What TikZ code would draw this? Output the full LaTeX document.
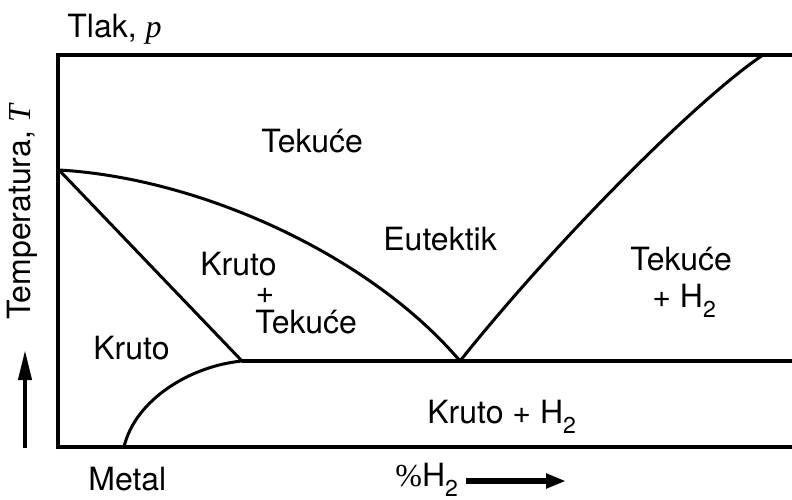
\documentclass[tikz,border=0pt]{standalone}
\usepackage{fontspec}
\setmainfont{TeX Gyre Heros}
\newfontfamily\timesfont{Liberation Serif}
\usetikzlibrary{arrows.meta}
\newcommand{\subtwo}{\raisebox{-5pt}{\fontsize{11.5}{12}\selectfont 2}}

\begin{document}
\begin{tikzpicture}[x=0.5pt, y=-0.5pt,
    lbl/.style={inner sep=0pt, anchor=base west, font=\fontsize{16}{19}\selectfont},
    phase/.style={line width=1.5pt},
    frame/.style={line width=2pt}]
            \useasboundingbox (0,0) rectangle (792,499);

            % Frame (open on the right)
            \draw[frame] (792,55) -- (58,55) -- (58,447) -- (792,447);

            % Key points
            \coordinate (melt) at (59,170);
            \coordinate (eut) at (460,361);
            \coordinate (sol) at (242,361);
            \coordinate (top) at (763,55);
            \coordinate (bot) at (124,447);
            \coordinate (rim) at (792,361);

            % Liquidus, solidus, solvus
            \draw[phase] (melt) .. controls (200,178) and (370,255) .. (eut);
            \draw[phase] (melt) -- (sol);
            \draw[phase] (sol) .. controls (190,366) and (135,400) .. (bot);
            \draw[phase] (eut) .. controls (560,236) and (700,97) .. (top);

            % Eutectic line
            \draw[frame] (sol) -- (rim);

            % Axis labels
            \node[lbl] (tlak) at (67,37) {Tlak, {\timesfont\itshape p}};
            \node[lbl, anchor=center, rotate=90] (temp) at (22,212) {Temperatura, {\timesfont\itshape T}};
            \node[lbl] (metal) at (88,490) {Metal};
            \node[lbl] (pct) at (395,486) {{\timesfont\%}H\subtwo};

            % Arrows
            \coordinate (tup) at (25,448);
            \draw[line width=2pt, -{Triangle[length=15pt,width=6.5pt]}] (tup) -- ++(0,-98);
            \coordinate (hx) at (466,481);
            \draw[line width=3pt, -{Triangle[length=10pt,width=7pt]}] (hx) -- ++(100,0);

            % Phase regions
            \node[lbl] (liq) at (261,152) {Teku\'ce};
            \node[lbl] (eutl) at (383,250) {Eutektik};
            \node[lbl] (mixa) at (200,275) {Kruto};
            \node[lbl, anchor=base] (mixb) at (265,303) {+};
            \node[lbl] (mixc) at (255,333) {Teku\'ce};
            \node[lbl] (solid) at (93,359) {Kruto};
            \node[lbl] (gasa) at (630,270) {Teku\'ce};
            \node[lbl] (gasb) at (652,307) {+ H\subtwo};
            \node[lbl] (gasc) at (427,423) {Kruto + H\subtwo};
        \end{tikzpicture}
\end{document}
